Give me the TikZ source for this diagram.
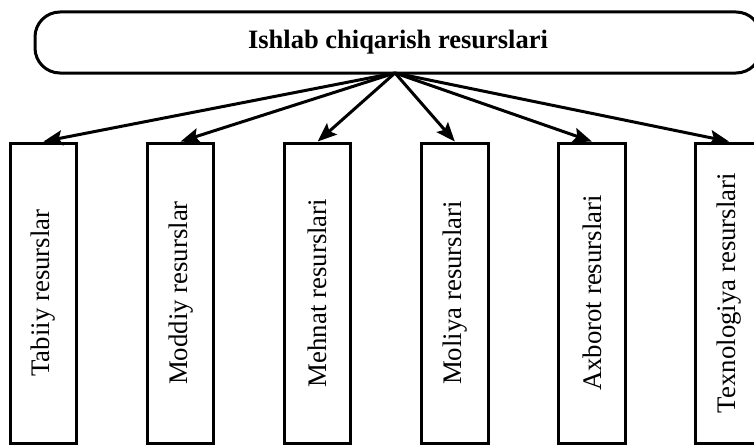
\documentclass[tikz,border=0pt]{standalone}
\usepackage{fontspec}
\setmainfont{Liberation Serif}
\usetikzlibrary{arrows.meta}
\begin{document}
\begin{tikzpicture}[x=1pt,y=-1pt,
  topbox/.style={draw, line width=3pt, rounded corners=25pt, minimum width=726pt, minimum height=61pt, inner sep=0pt, font=\bfseries\fontsize{26.5}{30}\selectfont},
  resbox/.style={draw, line width=3pt, rotate=90, minimum width=300pt, minimum height=66.5pt, inner sep=0pt, font=\fontsize{26.8}{30}\selectfont},
  conn/.style={line width=3pt, -{Stealth[length=19pt,width=15pt,inset=3.5pt]}}]
\clip (0,0) rectangle (754,444);
\node[topbox] (top) at (398,42.5) {Ishlab chiqarish resurslari};
\coordinate (apex) at (395,73);
\node[resbox] (b1) at (43.5,293) {Tabiiy resurslar};
\node[resbox] (b2) at (180.6,293) {Moddiy resurslar};
\node[resbox] (b3) at (317.7,293) {Mehnat resurslari};
\node[resbox] (b4) at (454.8,293) {Moliya resurslari};
\node[resbox] (b5) at (591.9,293) {Axborot resurslari};
\node[resbox] (b6) at (729,293) {Texnologiya resurslari};
\foreach \b in {b1,b2,b3,b4,b5,b6}
  \draw[conn] (apex) -- (\b.east);
\end{tikzpicture}
\end{document}
